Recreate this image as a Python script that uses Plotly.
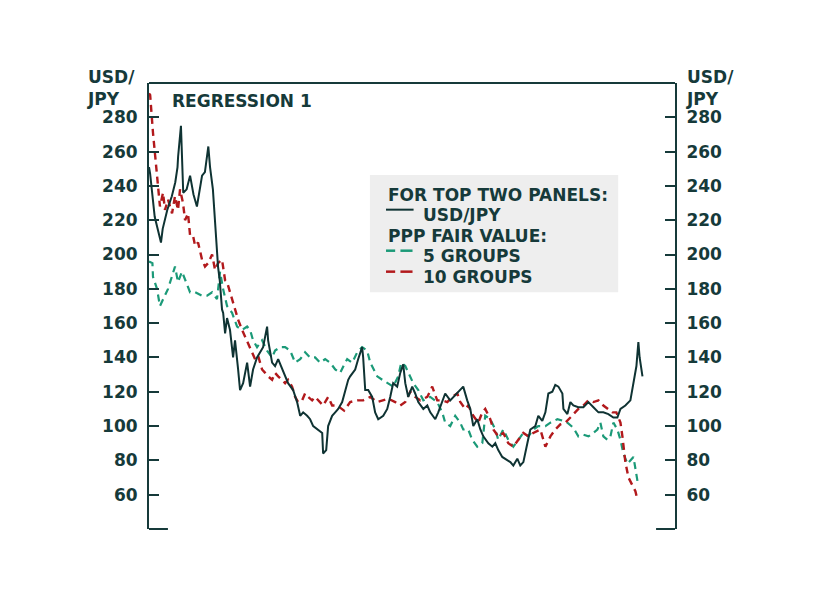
import plotly.graph_objects as go

# ---------------------------------------------------------------------------
# Data (x in decimal years)
# ---------------------------------------------------------------------------

USDJPY_T = [
    1980.0, 1980.1, 1980.5, 1980.8, 1981.05, 1981.2, 1981.6, 1982.0, 1982.3, 1982.5,
    1982.55, 1982.8, 1982.9, 1983.0, 1983.3, 1983.6, 1983.9, 1984.2, 1984.65, 1984.9,
    1985.2, 1985.35, 1985.6, 1985.8, 1986.05, 1986.2, 1986.4, 1986.5, 1986.67, 1986.84,
    1987.1, 1987.37, 1987.54, 1987.81, 1987.98, 1988.25, 1988.6, 1988.86, 1989.12, 1989.47,
    1989.74, 1990.0, 1990.35, 1990.44, 1990.79, 1991.05, 1991.32, 1991.67, 1991.93, 1992.19,
    1992.63, 1992.98, 1993.25, 1993.51, 1993.86, 1994.12, 1994.39, 1994.82, 1995.18, 1995.26,
    1995.53, 1995.7, 1996.05, 1996.32, 1996.58, 1996.93, 1997.19, 1997.46, 1997.63, 1998.07,
    1998.33, 1998.68, 1998.77, 1998.95, 1999.21, 1999.56, 1999.82, 2000.09, 2000.53, 2000.88,
    2001.14, 2001.4, 2001.75, 2002.02, 2002.28, 2002.46, 2002.72, 2003.07, 2003.33, 2003.6,
    2004.04, 2004.39, 2004.65, 2005.09, 2005.35, 2005.7, 2005.96, 2006.4, 2006.67, 2007.02,
    2007.28, 2007.54, 2007.89, 2008.16, 2008.42, 2008.77, 2009.04, 2009.3, 2009.74, 2010.09,
    2010.35, 2010.61, 2010.96, 2011.23, 2011.67, 2011.93, 2012.28, 2012.54, 2012.81, 2013.16,
    2013.42, 2013.86, 2014.12, 2014.47, 2014.74, 2015.0, 2015.35, 2015.61, 2015.88, 2016.23,
    2016.32, 2016.67, 2016.93, 2017.19, 2017.63, 2018.07, 2018.51, 2018.95, 2019.39, 2019.82,
    2020.26, 2020.7, 2021.05, 2021.32, 2021.75, 2022.19, 2022.46, 2022.72, 2022.89, 2023.0,
    2023.25,
]
USDJPY_V = [
    251, 247, 222, 213, 207, 215, 226, 234, 242, 251,
    257, 275, 255, 236, 238, 246, 235, 228, 246, 248,
    263, 251, 238, 216, 193, 185, 168, 166, 154, 163,
    156, 140, 150, 133, 121, 125, 137, 123, 133, 140,
    143, 146, 158, 150, 137, 135, 139, 133, 129, 125,
    121, 114, 106, 108, 106, 104, 100, 98, 96, 84,
    86, 100, 106, 108, 110, 114, 121, 127, 129, 133,
    139, 146, 140, 121, 121, 117, 108, 104, 106, 110,
    117, 125, 123, 131, 136, 125, 117, 123, 119, 114,
    110, 112, 108, 104, 108, 114, 119, 115, 117, 119,
    121, 123, 115, 110, 100, 104, 98, 94, 90, 88,
    90, 86, 82, 81, 79, 77, 81, 77, 79, 90,
    98, 100, 106, 103, 108, 119, 120, 124, 123, 119,
    110, 107, 114, 112, 111, 111, 114, 111, 108, 108,
    107, 105, 105, 110, 112, 115, 125, 135, 149, 140,
    129,
]

PPP10_T = [
    1980.0, 1980.1, 1980.35, 1980.6, 1980.8, 1980.96, 1981.23, 1981.4, 1981.67, 1982.02,
    1982.28, 1982.54, 1982.72, 1982.98, 1983.16, 1983.42, 1983.6, 1983.86, 1984.04, 1984.3,
    1984.65, 1984.91, 1985.18, 1985.53, 1985.79, 1986.05, 1986.4, 1986.67, 1986.84, 1987.11,
    1987.28, 1987.54, 1987.81, 1988.16, 1988.42, 1988.68, 1989.04, 1989.3, 1989.56, 1989.91,
    1990.18, 1990.44, 1990.79, 1991.05, 1991.32, 1991.67, 1991.93, 1992.19, 1992.54, 1992.81,
    1993.07, 1993.42, 1993.68, 1993.95, 1994.3, 1994.56, 1994.82, 1995.26, 1995.7, 1996.05,
    1996.49, 1996.93, 1997.1, 1997.63, 1998.25, 1998.77, 1999.39, 2000.0, 2000.53, 2000.96,
    2001.58, 2002.02, 2002.46, 2002.89, 2003.33, 2003.77, 2004.39, 2004.82, 2005.26, 2005.7,
    2006.14, 2006.58, 2007.02, 2007.28, 2007.72, 2007.98, 2008.42, 2008.86, 2009.21, 2009.47,
    2009.91, 2010.18, 2010.61, 2011.05, 2011.49, 2011.93, 2012.37, 2012.81, 2013.25, 2013.68,
    2014.3, 2014.74, 2015.18, 2015.61, 2016.05, 2016.49, 2016.93, 2017.37, 2017.63, 2018.07,
    2018.51, 2018.95, 2019.39, 2019.82, 2020.26, 2020.62, 2020.96, 2021.32, 2021.49, 2021.75,
    2022.02, 2022.37, 2022.63, 2022.81,
]
PPP10_V = [
    294, 293, 271, 252, 240, 228, 236, 226, 232, 224,
    234, 226, 238, 230, 220, 224, 211, 211, 205, 207,
    197, 193, 195, 200, 191, 195, 197, 185, 184, 178,
    174, 168, 162, 156, 152, 149, 143, 139, 141, 133,
    131, 129, 127, 131, 129, 127, 125, 127, 123, 117,
    114, 115, 119, 117, 115, 117, 115, 112, 117, 112,
    112, 110, 109, 114, 115, 115, 117, 114, 115, 116,
    114, 112, 114, 120, 117, 115, 117, 123, 115, 115,
    114, 117, 119, 114, 110, 112, 106, 102, 108, 110,
    104, 98, 94, 96, 90, 88, 92, 96, 94, 96,
    98, 88, 94, 98, 101, 102, 105, 108, 110, 112,
    115, 114, 115, 112, 110, 108, 108, 102, 94, 79,
    70, 65, 62, 57,
]

PPP5_T = [
    1980.0, 1980.3, 1980.35, 1980.7, 1980.96, 1981.23, 1981.67, 1982.28, 1982.54, 1982.89,
    1983.16, 1983.6, 1984.04, 1984.65, 1985.09, 1985.53, 1985.96, 1986.23, 1986.49, 1986.84,
    1987.28, 1987.72, 1988.16, 1988.6, 1988.86, 1989.12, 1989.47, 1989.91, 1990.35, 1990.79,
    1991.05, 1991.49, 1991.93, 1992.37, 1992.81, 1993.25, 1993.68, 1994.12, 1994.56, 1995.0,
    1995.44, 1995.88, 1996.32, 1996.75, 1997.19, 1997.37, 1997.81, 1998.25, 1998.68, 1999.12,
    1999.39, 2000.0, 2000.44, 2000.88, 2001.4, 2001.84, 2002.11, 2002.46, 2002.89, 2003.16,
    2003.6, 2004.04, 2004.65, 2005.26, 2005.7, 2005.96, 2006.4, 2006.84, 2007.28, 2007.54,
    2007.98, 2008.33, 2008.77, 2009.21, 2009.47, 2009.91, 2010.35, 2010.61, 2011.05, 2011.49,
    2011.93, 2012.37, 2012.81, 2013.25, 2013.68, 2014.12, 2014.74, 2015.18, 2015.79, 2016.32,
    2016.67, 2017.19, 2017.63, 2018.07, 2018.51, 2018.95, 2019.3, 2019.56, 2019.82, 2020.18,
    2020.44, 2020.7, 2021.05, 2021.32, 2021.58, 2021.93, 2022.19, 2022.46, 2022.81,
]
PPP5_V = [
    196, 195, 187, 180, 170, 174, 180, 193, 184, 190,
    185, 178, 178, 176, 176, 178, 174, 190, 180, 170,
    166, 158, 156, 158, 156, 150, 146, 150, 144, 140,
    144, 146, 146, 144, 137, 139, 143, 140, 140, 137,
    139, 137, 133, 131, 137, 139, 137, 143, 146, 144,
    137, 129, 127, 125, 123, 129, 137, 135, 129, 125,
    121, 115, 117, 114, 108, 102, 100, 106, 102, 98,
    98, 92, 88, 90, 106, 104, 98, 92, 98, 92,
    88, 92, 96, 94, 98, 100, 100, 102, 104, 103,
    102, 99, 94, 95, 94, 96, 98, 102, 94, 92,
    94, 102, 98, 92, 84, 78, 80, 82, 68,
]

Y_TICKS = [60, 80, 100, 120, 140, 160, 180, 200, 220, 240, 260, 280]

# ---------------------------------------------------------------------------
# Style
# ---------------------------------------------------------------------------

INK = "#163a3a"
DARK = "#0f3333"
TEAL = "#1b9a78"
RED = "#b2191c"
FONT = dict(family="DejaVu Sans", size=17, color=INK, weight=700)

fig = go.Figure()

fig.add_trace(go.Scatter(
    x=PPP5_T, y=PPP5_V, mode="lines", name="5 GROUPS",
    line=dict(color=TEAL, width=2.2, dash="7px,5px"),
))
fig.add_trace(go.Scatter(
    x=PPP10_T, y=PPP10_V, mode="lines", name="10 GROUPS",
    line=dict(color=RED, width=2.4, dash="7px,5px"),
))
fig.add_trace(go.Scatter(
    x=USDJPY_T, y=USDJPY_V, mode="lines", name="USD/JPY",
    line=dict(color=DARK, width=2),
))
# invisible trace so the right axis is drawn
fig.add_trace(go.Scatter(
    x=[USDJPY_T[0]], y=[USDJPY_V[0]], yaxis="y2", mode="markers",
    marker=dict(opacity=0), hoverinfo="skip", showlegend=False,
))

axis_common = dict(
    range=[40, 300], tickvals=Y_TICKS, showgrid=False, zeroline=False,
    showline=True, linecolor=INK, linewidth=2,
    ticks="inside", ticklen=10, tickwidth=2, tickcolor=INK,
    tickfont=FONT, ticklabelstandoff=6,
)

# page body adds an 8px offset, so margins are shifted to compensate
fig.update_layout(
    width=824, height=590,
    paper_bgcolor="white", plot_bgcolor="white",
    margin=dict(l=141, r=157, t=75, b=69),
    showlegend=False,
    font=FONT,
    xaxis=dict(range=[1980, 2026.1], visible=False),
    yaxis=dict(side="left", **axis_common),
    yaxis2=dict(side="right", overlaying="y", **axis_common),
)

# top frame line and bottom stubs
fig.add_shape(type="line", xref="paper", yref="paper", x0=0, x1=1, y0=1, y1=1,
              line=dict(color=INK, width=2))
fig.add_shape(type="line", xref="paper", yref="paper", x0=0, x1=0.036, y0=0, y1=0,
              line=dict(color=INK, width=2))
fig.add_shape(type="line", xref="paper", yref="paper", x0=0.964, x1=1, y0=0, y1=0,
              line=dict(color=INK, width=2))

# axis titles and panel label
for xpos in (-0.119, 1.019):
    fig.add_annotation(text="USD/<br>JPY", xref="paper", yref="paper", x=xpos, y=1.038,
                       xanchor="left", yanchor="top", align="left", borderpad=0,
                       showarrow=False, font=FONT)
fig.add_annotation(text="REGRESSION 1", xref="paper", yref="paper", x=0.04, y=0.96,
                   xanchor="left", yanchor="middle", showarrow=False, font=FONT)

# legend box
fig.add_shape(type="rect", xref="paper", yref="paper", x0=0.42, x1=0.892, y0=0.531, y1=0.794,
              fillcolor="#eeeeee", line=dict(width=0), layer="below")
legend_rows = [
    ("FOR TOP TWO PANELS:", 0.4506, 0.749, None, None),
    ("USD/JPY", 0.517, 0.704, DARK, "solid"),
    ("PPP FAIR VALUE:", 0.4506, 0.657, None, None),
    ("5 GROUPS", 0.517, 0.612, TEAL, "dash"),
    ("10 GROUPS", 0.517, 0.565, RED, "dash"),
]
for text, xpos, ypos, color, style in legend_rows:
    fig.add_annotation(text=text, xref="paper", yref="paper", x=xpos, y=ypos,
                       xanchor="left", yanchor="middle", showarrow=False, font=FONT)
    if color is None:
        continue
    yl = ypos + 0.012
    if style == "solid":
        fig.add_shape(type="line", xref="paper", yref="paper", x0=0.4506, x1=0.503,
                      y0=yl, y1=yl, line=dict(color=color, width=2))
    else:
        for x0, x1 in [(0.4506, 0.468), (0.478, 0.501)]:
            fig.add_shape(type="line", xref="paper", yref="paper", x0=x0, x1=x1,
                          y0=yl, y1=yl, line=dict(color=color, width=2.5))

fig.write_html("out.html")
